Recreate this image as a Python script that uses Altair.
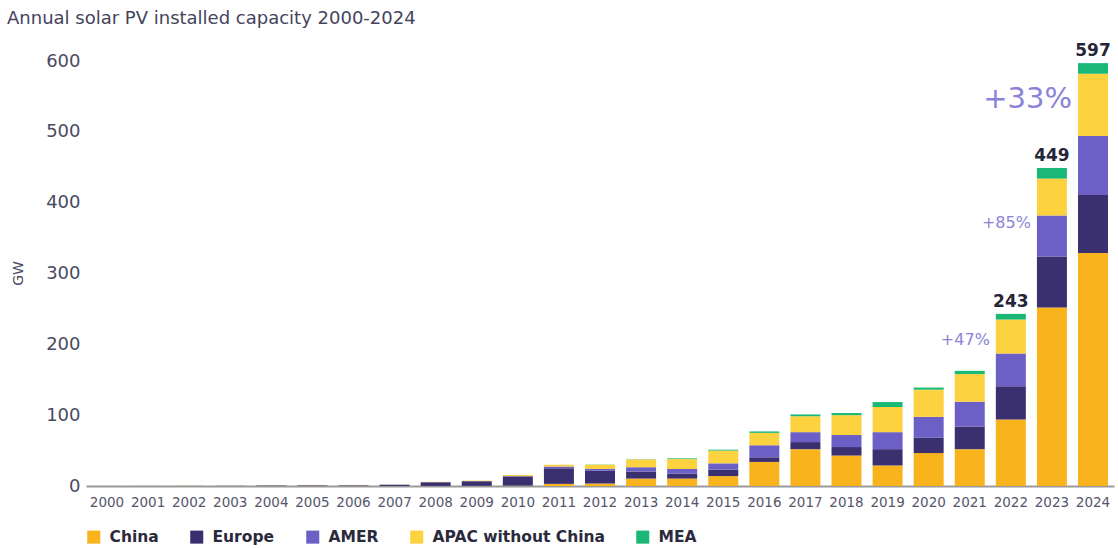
import altair as alt
import pandas as pd

years = [str(y) for y in range(2000, 2025)]
regions = ["China", "Europe", "AMER", "APAC without China", "MEA"]
colors = ["#F9B31C", "#3A2F6F", "#6C5FC6", "#FDD23F", "#19B877"]

china = [0, 0, 0, 0, 0, 0, 0, 0.05, 0.1, 0.2, 0.5, 3, 3.5, 10.5, 10.5, 14, 34, 52, 43, 29, 46.5, 52, 94, 252, 329]
europe = [0.05, 0.1, 0.1, 0.2, 0.7, 0.9, 0.9, 1.7, 5.2, 6.5, 13, 22, 18, 10, 7, 9, 6.5, 10, 12, 23, 22, 32, 47, 72, 82]
amer = [0.02, 0.03, 0.05, 0.05, 0.1, 0.1, 0.1, 0.15, 0.2, 0.3, 0.5, 2.5, 2.5, 6, 6.5, 9, 17, 14, 17, 24, 29, 35, 46, 58, 83]
apac = [0.1, 0.1, 0.2, 0.2, 0.3, 0.3, 0.3, 0.2, 0.4, 0.7, 1.5, 2.5, 6, 11, 14, 18, 17.5, 22.5, 28, 35.5, 38.5, 39, 48, 52, 88]
mea = [0, 0, 0, 0, 0, 0, 0, 0, 0, 0, 0, 0, 0.3, 0.3, 1, 1.3, 2, 2.5, 3, 7, 3, 4.6, 8, 15, 15]

total_years = ["2022", "2023", "2024"]
total_labels = [243, 449, 597]

growth_labels = ["+47%", "+85%", "+33%"]

series = [china, europe, amer, apac, mea]
rows = []
for i, yr in enumerate(years):
    for k, (reg, vals) in enumerate(zip(regions, series)):
        rows.append({"year": yr, "region": reg, "gw": vals[i], "order": k})
df = pd.DataFrame(rows)

tot_df = pd.DataFrame({"year": total_years, "total": total_labels,
                       "label": [str(v) for v in total_labels]})
gr_df = pd.DataFrame({"year": total_years, "total": total_labels, "label": growth_labels})

TXT = "#4a4a62"

x_enc = alt.X(
    "year:O",
    scale=alt.Scale(domain=years, paddingInner=0.27, paddingOuter=0.146),
    axis=alt.Axis(title=None, labelAngle=0, labelFontSize=13.5, labelColor="#55556b",
                  labelPadding=9, ticks=False, domainColor="#9a9a9a", domainWidth=2,
                  labelOverlap=False),
)
y_scale = alt.Scale(domain=[0, 600], nice=False, zero=True)

bars = alt.Chart(df).mark_bar().encode(
    x=x_enc,
    y=alt.Y("gw:Q", stack="zero", scale=y_scale,
            axis=alt.Axis(values=[0, 100, 200, 300, 400, 500, 600], title="GW", grid=False,
                          domain=False, ticks=False, labelFontSize=18, labelColor=TXT,
                          labelPadding=6, titleFontSize=14, titleFontWeight="normal",
                          titleColor=TXT, titleX=-68, titleY=212, titleAlign="center",
                          titleBaseline="middle", titleAngle=270)),
    color=alt.Color("region:N", scale=alt.Scale(domain=regions, range=colors),
                    legend=alt.Legend(title=None, orient="none", legendX=0, legendY=468,
                                      direction="horizontal", columns=5, symbolType="square",
                                      symbolSize=170, symbolStrokeWidth=0, labelFontSize=15.5,
                                      labelFontWeight="bold", labelColor="#2a2a3c",
                                      labelOffset=8, columnPadding=30, labelLimit=0)),
    order=alt.Order("order:Q", sort="ascending"),
)

totals = alt.Chart(tot_df).mark_text(dy=-12, fontSize=17, fontWeight="bold",
                                     color="#26263a", baseline="middle").encode(
    x=alt.X("year:O", scale=alt.Scale(domain=years)),
    y=alt.Y("total:Q", scale=y_scale),
    text="label:N",
)

ANN = "#8C83D8"
g1 = alt.Chart(gr_df).transform_filter(alt.datum.year == "2022").mark_text(
    dx=-21, dy=26, align="right", baseline="middle", fontSize=16, color=ANN).encode(
    x=alt.X("year:O", scale=alt.Scale(domain=years)), y=alt.Y("total:Q", scale=y_scale), text="label:N")
g2 = alt.Chart(gr_df).transform_filter(alt.datum.year == "2023").mark_text(
    dx=-21, dy=55, align="right", baseline="middle", fontSize=16, color=ANN).encode(
    x=alt.X("year:O", scale=alt.Scale(domain=years)), y=alt.Y("total:Q", scale=y_scale), text="label:N")
g3 = alt.Chart(gr_df).transform_filter(alt.datum.year == "2024").mark_text(
    dx=-21, dy=36, align="right", baseline="middle", fontSize=29, color=ANN).encode(
    x=alt.X("year:O", scale=alt.Scale(domain=years)), y=alt.Y("total:Q", scale=y_scale), text="label:N")

chart = alt.layer(bars, totals, g1, g2, g3).properties(
    width=1028, height=425,
    title=alt.TitleParams("Annual solar PV installed capacity 2000-2024", anchor="start",
                          fontSize=18, fontWeight="normal", color="#44445c", dx=-4,
                          offset=14),
    autosize=alt.AutoSizeParams(type="none"),
    padding={"left": 86, "top": 61, "right": 4, "bottom": 62},
).configure(font="DejaVu Sans").configure_view(stroke=None)

chart.save("out.html", embed_options={"renderer": "svg", "actions": False})
